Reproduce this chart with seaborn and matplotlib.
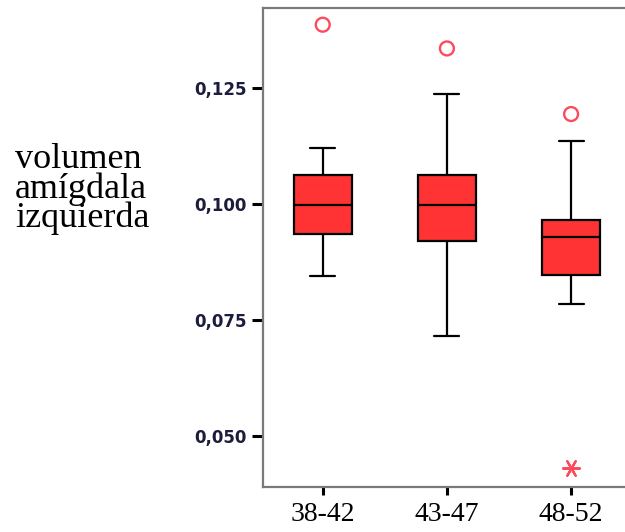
import numpy as np
import pandas as pd
import seaborn as sns
import matplotlib
matplotlib.use("Agg")
import matplotlib.pyplot as plt

# Age groups and the five-number summary of each box
groups = ["38-42", "43-47", "48-52"]
whisker_low = [0.0845, 0.0716, 0.0784]
q1 = [0.0935, 0.0920, 0.0848]
median = [0.0997, 0.0997, 0.0928]
q3 = [0.1061, 0.1063, 0.0966]
whisker_high = [0.1121, 0.1237, 0.1135]

# Outlying cases: mild (circles) and extreme (asterisk)
outlier_groups = ["38-42", "43-47", "48-52"]
outlier_values = [0.1385, 0.1334, 0.1193]
extreme_groups = ["48-52"]
extreme_values = [0.0432]

ytick_values = [0.050, 0.075, 0.100, 0.125]
ytick_labels = ["0,050", "0,075", "0,100", "0,125"]
ylabel = "volumen\namígdala\nizquierda"

box_color = "#ff3333"
point_color = "#ff4a5c"

rows = []
for g, lo, a, m, b, hi in zip(groups, whisker_low, q1, median, q3, whisker_high):
    for v in (lo, a, m, b, hi):
        rows.append({"grupo": g, "volumen": v})
boxes = pd.DataFrame(rows)
mild = pd.DataFrame({"grupo": outlier_groups, "volumen": outlier_values})
extreme = pd.DataFrame({"grupo": extreme_groups, "volumen": extreme_values})

sns.set_theme(style="white")
fig = plt.figure(figsize=(6.25, 5.32), dpi=100)
ax = fig.add_axes([263 / 625, 45 / 532, 362 / 625, 479 / 532])

sns.boxplot(data=boxes, x="grupo", y="volumen", order=groups, ax=ax,
            whis=(0, 100), showfliers=False, width=0.47, color=box_color,
            saturation=1, linewidth=1.6, linecolor="black",
            capwidths=0.2,
            boxprops={"facecolor": box_color, "edgecolor": "black"},
            medianprops={"color": "black", "linewidth": 1.6},
            whiskerprops={"color": "black", "linewidth": 1.6},
            capprops={"color": "black", "linewidth": 1.6})

sns.stripplot(data=mild, x="grupo", y="volumen", order=groups, ax=ax,
              jitter=False, marker="o", size=10, facecolors="none",
              edgecolor=point_color, linewidth=1.7, color=point_color)
sns.stripplot(data=extreme, x="grupo", y="volumen", order=groups, ax=ax,
              jitter=False, marker=(6, 2, 90), size=12,
              edgecolor=point_color, linewidth=1.6, color=point_color)

ax.set_xlim(-0.481, 2.434)
ax.set_ylim(0.03914, 0.14209)
ax.set_yticks(ytick_values)
ax.set_yticklabels(ytick_labels)
ax.set_xlabel("")
ax.set_ylabel("")

for side in ("left", "top", "bottom"):
    ax.spines[side].set_visible(True)
    ax.spines[side].set_color("#7a7a7a")
    ax.spines[side].set_linewidth(1.6)
ax.spines["right"].set_visible(False)

ax.tick_params(axis="y", direction="out", length=8, width=2.2, color="black",
               pad=3.5, left=True, labelsize=12)
ax.tick_params(axis="x", direction="out", length=6, width=2.2, color="black",
               pad=5, bottom=True, labelsize=20)
for lab in ax.get_yticklabels():
    lab.set_fontfamily("DejaVu Sans")
    lab.set_fontweight("bold")
    lab.set_color("#1c1c3c")
for lab in ax.get_xticklabels():
    lab.set_fontfamily("Liberation Serif")
    lab.set_color("black")

fig.text(15 / 625, 1 - 189 / 532, ylabel, ha="left", va="center",
         fontfamily="Liberation Serif", fontsize=26, linespacing=0.86,
         color="black")

fig.savefig("out.png", dpi=100, facecolor="white")
